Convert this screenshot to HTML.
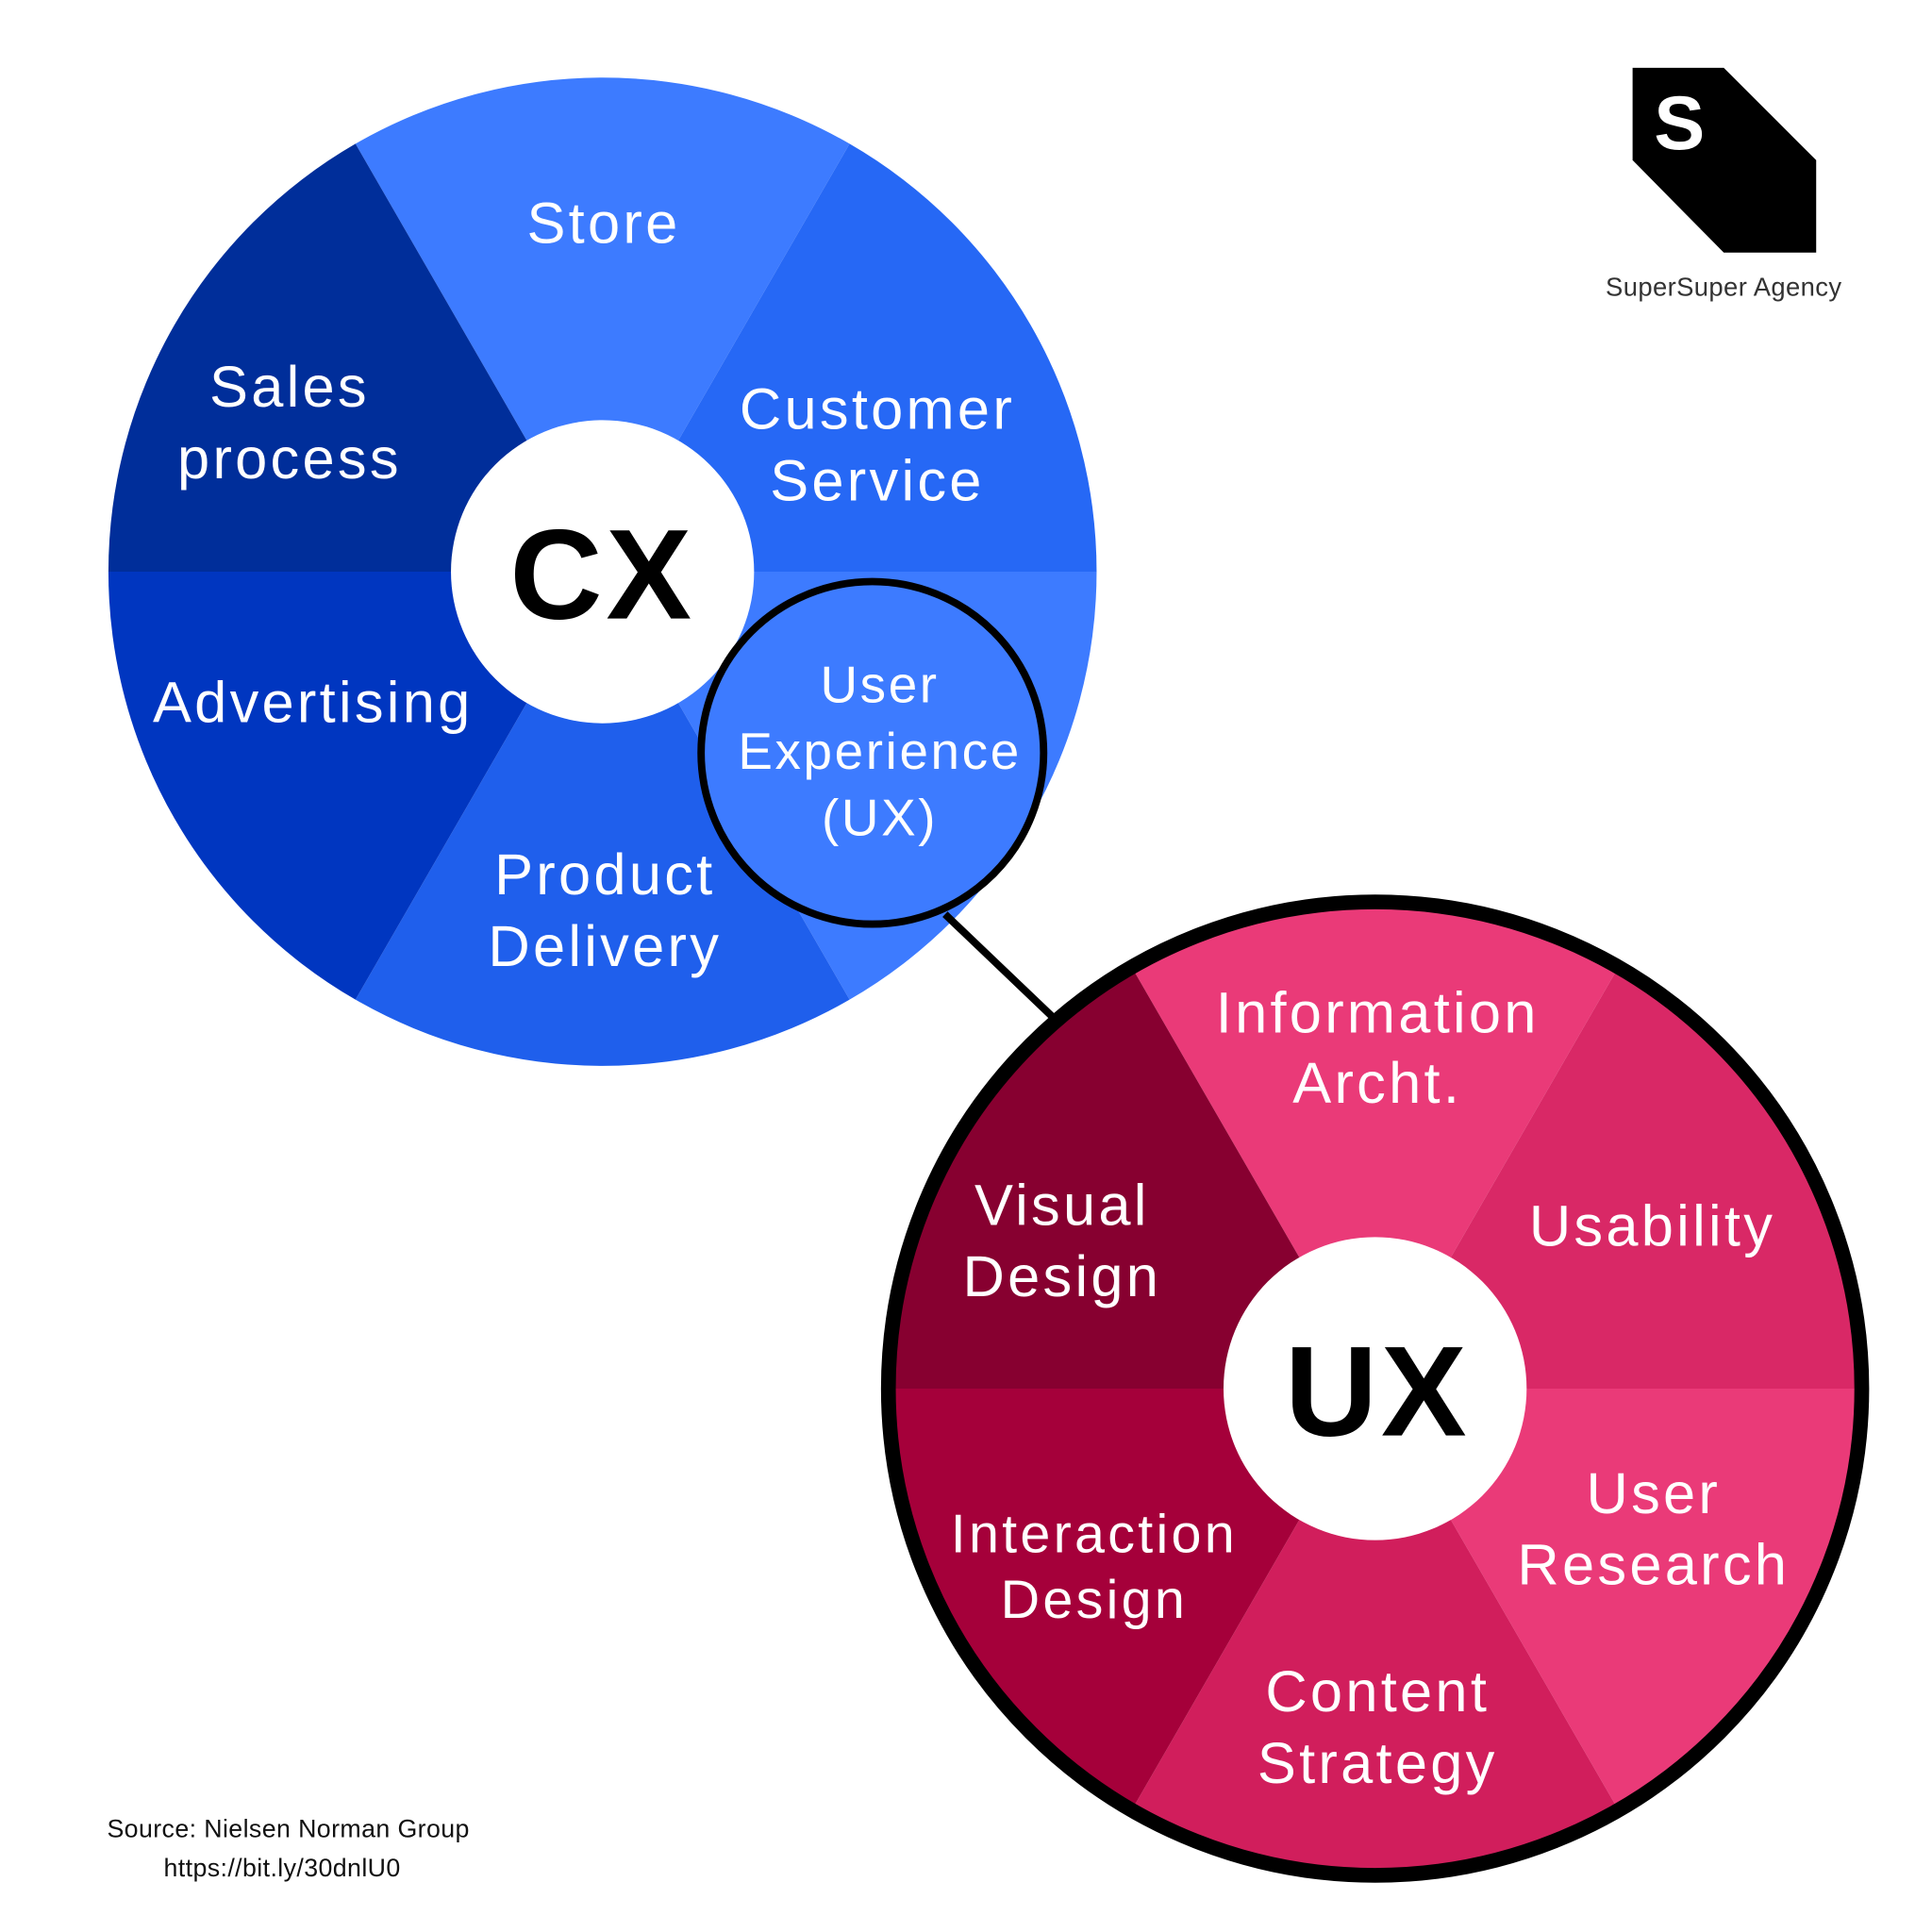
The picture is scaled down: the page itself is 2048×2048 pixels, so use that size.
<!DOCTYPE html>
<html><head><meta charset="utf-8"><style>
html,body{margin:0;padding:0;background:#fff;}
svg{display:block;}
text{font-family:"Liberation Sans",sans-serif;}
.l{fill:#fff;font-size:47px;text-anchor:middle;letter-spacing:2.5px;}
</style></head><body>
<svg width="2048" height="2048" viewBox="0 0 1568 1568" xmlns="http://www.w3.org/2000/svg">
<rect width="1568" height="1568" fill="#fff"/>
<path d="M489 464 L288.5 116.7 A401 401 0 0 1 689.5 116.7 Z" fill="#3d7bff"/>
<path d="M489 464 L689.5 116.7 A401 401 0 0 1 890 464 Z" fill="#2668f5"/>
<path d="M489 464 L890 464 A401 401 0 0 1 689.5 811.3 Z" fill="#3d7bff"/>
<path d="M489 464 L689.5 811.3 A401 401 0 0 1 288.5 811.3 Z" fill="#1f5fec"/>
<path d="M489 464 L288.5 811.3 A401 401 0 0 1 88 464 Z" fill="#0036c0"/>
<path d="M489 464 L88 464 A401 401 0 0 1 288.5 116.7 Z" fill="#002e9a"/>
<circle cx="489" cy="464" r="123" fill="#fff"/>
<text x="489" y="502" font-size="104" font-weight="bold" text-anchor="middle" fill="#000" letter-spacing="3">CX</text>
<text class="l" x="490" y="197">Store</text>
<text class="l" x="235" y="330">Sales</text><text class="l" x="235" y="388">process</text>
<text class="l" x="712" y="348">Customer</text><text class="l" x="712" y="406">Service</text>
<text class="l" x="254" y="586">Advertising</text>
<text class="l" x="491" y="726">Product</text><text class="l" x="491" y="784">Delivery</text>
<line x1="767" y1="742" x2="855" y2="826" stroke="#000" stroke-width="6"/>
<circle cx="708" cy="611" r="139" fill="#3d7bff" stroke="#000" stroke-width="6"/>
<text class="l" x="714" y="570" style="font-size:42px;letter-spacing:2px">User</text>
<text class="l" x="714" y="624" style="font-size:42px;letter-spacing:2px">Experience</text>
<text class="l" x="714" y="678" style="font-size:42px;letter-spacing:2px">(UX)</text>
<path d="M1116 1127 L918.5 784.9 A395 395 0 0 1 1313.5 784.9 Z" fill="#ea3a78"/>
<path d="M1116 1127 L1313.5 784.9 A395 395 0 0 1 1511 1127 Z" fill="#d92866"/>
<path d="M1116 1127 L1511 1127 A395 395 0 0 1 1313.5 1469.1 Z" fill="#ea3a78"/>
<path d="M1116 1127 L1313.5 1469.1 A395 395 0 0 1 918.5 1469.1 Z" fill="#d11e5c"/>
<path d="M1116 1127 L918.5 1469.1 A395 395 0 0 1 721 1127 Z" fill="#a5003a"/>
<path d="M1116 1127 L721 1127 A395 395 0 0 1 918.5 784.9 Z" fill="#870030"/>
<circle cx="1116" cy="1127" r="395" fill="none" stroke="#000" stroke-width="12"/>
<circle cx="1116" cy="1127" r="123" fill="#fff"/>
<text x="1118" y="1165" font-size="104" font-weight="bold" text-anchor="middle" fill="#000" letter-spacing="3">UX</text>
<text class="l" x="1118" y="838">Information</text><text class="l" x="1118" y="895">Archt.</text>
<text class="l" x="1341" y="1011">Usability</text>
<text class="l" x="862" y="994">Visual</text><text class="l" x="862" y="1052">Design</text>
<text class="l" x="1342" y="1228">User</text><text class="l" x="1342" y="1286">Research</text>
<text class="l" x="888" y="1260" style="font-size:44px">Interaction</text><text class="l" x="888" y="1313" style="font-size:44px">Design</text>
<text class="l" x="1118" y="1389">Content</text><text class="l" x="1118" y="1447">Strategy</text>
<polygon points="1325,55 1399,55 1474,130 1474,205 1399,205 1325,130" fill="#000"/>
<text x="1363" y="121" font-size="62" font-weight="bold" text-anchor="middle" fill="#fff">S</text>
<text x="1399" y="240" font-size="21" text-anchor="middle" fill="#333" letter-spacing="0.3">SuperSuper Agency</text>
<text x="234" y="1491" font-size="20.5" text-anchor="middle" fill="#111" letter-spacing="0.3">Source: Nielsen Norman Group</text>
<text x="229" y="1523" font-size="20.5" text-anchor="middle" fill="#111" letter-spacing="0.3">https://bit.ly/30dnlU0</text>
</svg>
</body></html>
